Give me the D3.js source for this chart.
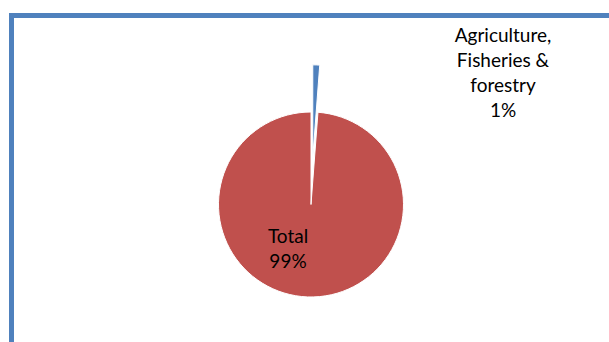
<!DOCTYPE html>
<html>
<head>
<meta charset="utf-8">
<script src="https://cdn.jsdelivr.net/npm/d3@7"></script>
<style>
  html, body { margin: 0; padding: 0; background: #fff; }
  svg { display: block; }
  text { font-family: Lato, "Open Sans", sans-serif; fill: #000; }
</style>
</head>
<body>
<svg id="chart" width="609" height="342"></svg>
<script>
// Share of the sector in the total
const categories = ["Agriculture, Fisheries & forestry", "Total"];
const shares = [1.2, 98.8];
const colors = ["#4F81BD", "#C0504D"];

const width = 609, height = 342;
const svg = d3.select("#chart");

// chart area frame (only top and left edges fall inside the view)
svg.append("rect")
  .attr("x", 11.5).attr("y", 15.5)
  .attr("width", 700).attr("height", 400)
  .attr("fill", "none")
  .attr("stroke", "#4F81BD")
  .attr("stroke-width", 5);

const cx = 311, cy = 204.5, radius = 92.5;
const explode = [0.51, 0]; // fraction of the radius each slice is pulled out

const pie = d3.pie().sort(null).value(d => d)(shares);
const arc = d3.arc().innerRadius(0).outerRadius(radius);
const total = d3.sum(shares);
const pct = d3.format(".0%");

const g = svg.append("g").attr("transform", `translate(${cx},${cy})`);

g.selectAll("path.slice")
  .data(pie)
  .join("path")
  .attr("class", "slice")
  .attr("d", arc)
  .attr("fill", (d, i) => colors[i])
  .attr("stroke", "#fff")
  .attr("stroke-width", 1)
  .attr("transform", (d, i) => {
    const a = (d.startAngle + d.endAngle) / 2;
    const off = explode[i] * radius;
    return `translate(${Math.sin(a) * off},${-Math.cos(a) * off})`;
  });

// data labels: category name split over lines, then the percentage
const labelLines = [
  ["Agriculture,", "Fisheries &", "forestry"],
  ["Total"]
];
const labelPos = [[192, -163], [-23, 38]]; // offsets from the pie centre
const lineH = 25;

const labels = g.selectAll("text.lbl")
  .data(pie)
  .join("text")
  .attr("class", "lbl")
  .attr("text-anchor", "middle")
  .style("font-size", "19px")
  .attr("x", (d, i) => labelPos[i][0])
  .attr("y", (d, i) => labelPos[i][1]);

labels.each(function(d, i) {
  const t = d3.select(this);
  const lines = labelLines[i].concat([pct(d.data / total)]);
  lines.forEach((s, k) => {
    t.append("tspan")
      .attr("x", labelPos[i][0])
      .attr("dy", k === 0 ? 0 : lineH)
      .text(s);
  });
});
</script>
</body>
</html>
